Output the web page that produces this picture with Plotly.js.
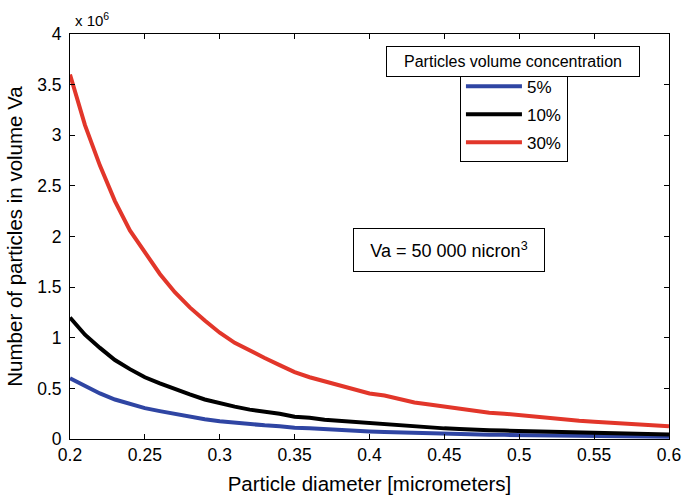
<!DOCTYPE html>
<html>
<head>
<meta charset="utf-8">
<script src="https://cdn.plot.ly/plotly-3.0.1.min.js"></script>
<style>html,body{margin:0;padding:0;background:#fff;}#chart{width:683px;height:498px;}</style>
</head>
<body>
<div id="chart"></div>
<script>
// Particle diameter [micrometers]
const diameters = [0.20,0.21,0.22,0.23,0.24,0.25,0.26,0.27,0.28,0.29,0.30,0.31,0.32,0.33,0.34,0.35,0.36,0.37,0.38,0.39,0.40,0.41,0.42,0.43,0.44,0.45,0.46,0.47,0.48,0.49,0.50,0.51,0.52,0.53,0.54,0.55,0.56,0.57,0.58,0.59,0.60];
// Number of particles (x 10^6)
const conc5 = [0.6,0.52,0.45,0.39,0.345,0.305,0.275,0.245,0.22,0.195,0.175,0.16,0.145,0.135,0.125,0.11,0.105,0.095,0.09,0.08,0.075,0.07,0.065,0.06,0.055,0.052,0.05,0.045,0.043,0.041,0.04,0.037,0.035,0.032,0.03,0.028,0.026,0.025,0.024,0.023,0.022];
const conc10 = [1.2,1.03,0.9,0.78,0.69,0.61,0.55,0.49,0.44,0.39,0.35,0.32,0.29,0.27,0.25,0.22,0.21,0.19,0.18,0.16,0.15,0.14,0.13,0.12,0.11,0.105,0.1,0.09,0.087,0.083,0.08,0.075,0.07,0.065,0.06,0.057,0.053,0.05,0.048,0.046,0.045];
const conc30 = [3.6,3.1,2.7,2.35,2.06,1.84,1.63,1.45,1.3,1.17,1.05,0.95,0.87,0.8,0.73,0.66,0.61,0.57,0.53,0.49,0.45,0.43,0.39,0.36,0.34,0.32,0.30,0.28,0.26,0.25,0.235,0.22,0.205,0.19,0.18,0.17,0.16,0.15,0.145,0.14,0.125];
const seriesNames = ['5%','10%','30%'];
const seriesColors = ['#2f45a3','#000000','#e2362a'];

const font = 'Liberation Sans, Arial, sans-serif';
const traces = [conc5, conc10, conc30].map((ys, i) => ({
  x: diameters, y: ys, type: 'scatter', mode: 'lines', name: seriesNames[i],
  legendgroup: 'g' + i,
  line: {color: seriesColors[i], width: 4}
}));

const layout = {
  width: 683, height: 498,
  margin: {l: 70, r: 14, t: 34, b: 59},
  paper_bgcolor: '#fff', plot_bgcolor: '#fff',
  font: {family: font, size: 17, color: '#000'},
  showlegend: true,
  legend: {
    x: 0.651, y: 0.917, xanchor: 'left', yanchor: 'top',
    bgcolor: '#fff', bordercolor: '#000', borderwidth: 1,
    font: {family: font, size: 17},
    traceorder: 'grouped', tracegroupgap: 3, itemwidth: 56
  },
  xaxis: {
    range: [0.2, 0.6], dtick: 0.05, tick0: 0.2,
    showgrid: false, zeroline: false,
    showline: true, linecolor: '#000', linewidth: 1, mirror: 'ticks',
    ticks: 'inside', ticklen: 5, tickcolor: '#000',
    tickfont: {size: 17.5},
    title: {text: 'Particle diameter [micrometers]', font: {size: 20.5}, standoff: 12}
  },
  yaxis: {
    range: [0, 4], dtick: 0.5,
    showgrid: false, zeroline: false,
    showline: true, linecolor: '#000', linewidth: 1, mirror: 'ticks',
    ticks: 'inside', ticklen: 5, tickcolor: '#000',
    tickfont: {size: 17.5}, ticklabelstandoff: 4,
    title: {text: 'Number of particles in volume Va', font: {size: 20.5}, standoff: 8}
  },
  annotations: [
    {xref: 'paper', yref: 'paper', x: 0.005, y: 1.0, xanchor: 'left', yanchor: 'bottom',
     text: 'x 10<sup>6</sup>', showarrow: false, font: {size: 15}, yshift: 3},
    {xref: 'paper', yref: 'paper', x: 0.740, y: 0.932, xanchor: 'center', yanchor: 'middle',
     text: 'Particles volume concentration', showarrow: false, font: {size: 16},
     bgcolor: '#fff', bordercolor: '#000', borderwidth: 1, width: 250, height: 27},
    {xref: 'paper', yref: 'paper', x: 0.633, y: 0.467, xanchor: 'center', yanchor: 'middle',
     text: 'Va = 50 000 nicron<sup>3</sup>', showarrow: false, font: {size: 18},
     bordercolor: '#000', borderwidth: 1, bgcolor: '#fff', width: 188, height: 40}
  ]
};

Plotly.newPlot('chart', traces, layout, {displayModeBar: false, staticPlot: true});
</script>
</body>
</html>
